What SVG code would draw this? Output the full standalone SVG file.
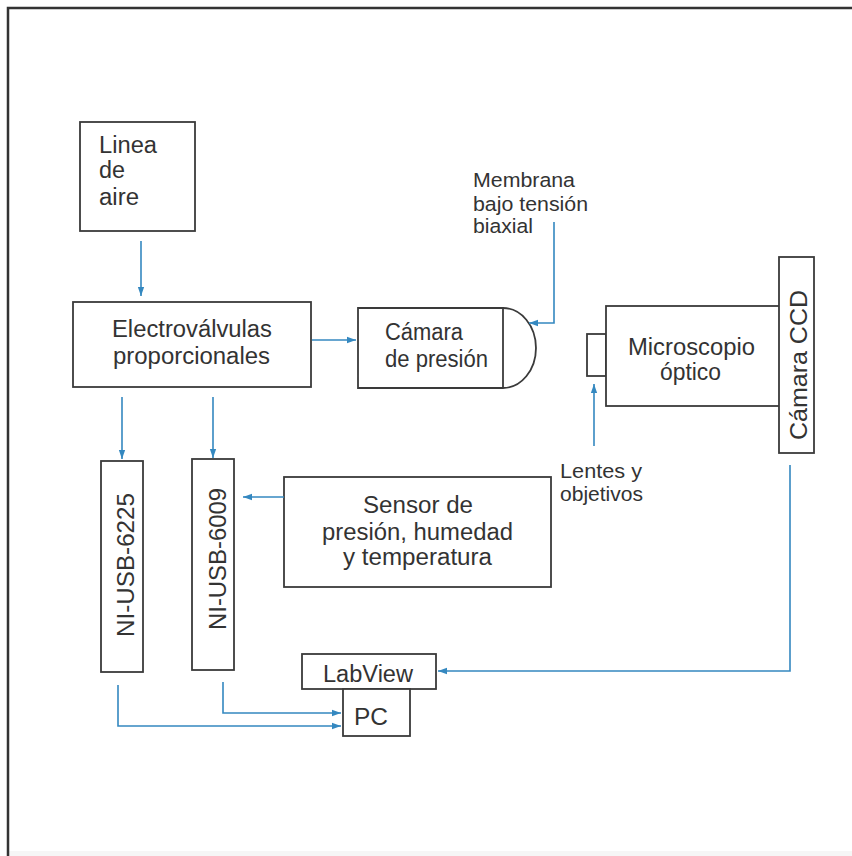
<svg xmlns="http://www.w3.org/2000/svg" width="852" height="856" viewBox="0 0 852 856">
<style>
.box{fill:#fff;stroke:#3a3a3a;stroke-width:1.8}
.lbl{font-family:"Liberation Sans",Arial,sans-serif;font-size:23px;fill:#333}
.sm{font-family:"Liberation Sans",Arial,sans-serif;font-size:20.5px;fill:#333}
.con{fill:none;stroke:#3488c0;stroke-width:1.6}
</style>
<defs>
<marker id="ah" viewBox="0 0 10 10" refX="10" refY="5" markerWidth="9" markerHeight="9" markerUnits="userSpaceOnUse" orient="auto">
<path d="M0,1.5 L10,5 L0,8.5 Z" fill="#3488c0"/>
</marker>
</defs>
<rect x="0" y="0" width="852" height="856" fill="#fff"/>
<rect x="8" y="851" width="844" height="5" fill="#f6f6f6"/>
<path d="M852,8 H8 V856" fill="none" stroke="#333" stroke-width="2.5"/>

<g id="linea-aire">
<rect class="box" x="80" y="122" width="115" height="109"/>
<text class="lbl" x="99" y="153" textLength="58" lengthAdjust="spacingAndGlyphs">Linea</text>
<text class="lbl" x="99" y="178" textLength="26" lengthAdjust="spacingAndGlyphs">de</text>
<text class="lbl" x="99" y="205" textLength="40" lengthAdjust="spacingAndGlyphs">aire</text>
</g>

<g id="electrovalvulas">
<rect class="box" x="73" y="302" width="238" height="85"/>
<text class="lbl" x="112" y="337" textLength="160" lengthAdjust="spacingAndGlyphs">Electroválvulas</text>
<text class="lbl" x="113" y="364" textLength="157" lengthAdjust="spacingAndGlyphs">proporcionales</text>
</g>

<g id="camara-presion">
<path class="box" d="M503,308 H358 V388 H503 A33,40 0 0 0 503,308 Z"/>
<line x1="503" y1="308" x2="503" y2="388" stroke="#3a3a3a" stroke-width="1.8"/>
<text class="lbl" x="385" y="340" textLength="78" lengthAdjust="spacingAndGlyphs">Cámara</text>
<text class="lbl" x="385" y="367" textLength="103" lengthAdjust="spacingAndGlyphs">de presión</text>
</g>

<g id="membrana">
<text class="sm" x="473" y="187" textLength="102" lengthAdjust="spacingAndGlyphs">Membrana</text>
<text class="sm" x="473" y="211" textLength="115" lengthAdjust="spacingAndGlyphs">bajo tensión</text>
<text class="sm" x="473" y="233" textLength="60" lengthAdjust="spacingAndGlyphs">biaxial</text>
</g>

<g id="microscopio">
<rect class="box" x="587" y="334" width="19" height="42"/>
<rect class="box" x="606" y="306" width="175" height="100"/>
<text class="lbl" x="628" y="355" textLength="127" lengthAdjust="spacingAndGlyphs">Microscopio</text>
<text class="lbl" x="660" y="380" textLength="61" lengthAdjust="spacingAndGlyphs">óptico</text>
</g>

<g id="camara-ccd">
<rect class="box" x="779" y="257" width="35" height="196"/>
<text class="lbl" transform="translate(807,365) rotate(-90)" text-anchor="middle" textLength="150" lengthAdjust="spacingAndGlyphs">Cámara CCD</text>
</g>

<g id="lentes">
<text class="sm" x="560" y="478" textLength="82" lengthAdjust="spacingAndGlyphs">Lentes y</text>
<text class="sm" x="560" y="501" textLength="83" lengthAdjust="spacingAndGlyphs">objetivos</text>
</g>

<g id="ni-usb-6225">
<rect class="box" x="101" y="461" width="42" height="211"/>
<text class="lbl" transform="translate(134,565) rotate(-90)" text-anchor="middle" textLength="144" lengthAdjust="spacingAndGlyphs">NI-USB-6225</text>
</g>

<g id="ni-usb-6009">
<rect class="box" x="192" y="459" width="42" height="211"/>
<text class="lbl" transform="translate(226,559) rotate(-90)" text-anchor="middle" textLength="142" lengthAdjust="spacingAndGlyphs">NI-USB-6009</text>
</g>

<g id="sensor">
<rect class="box" x="284" y="477" width="267" height="110"/>
<text class="lbl" x="363" y="513" textLength="110" lengthAdjust="spacingAndGlyphs">Sensor de</text>
<text class="lbl" x="322" y="540" textLength="191" lengthAdjust="spacingAndGlyphs">presión, humedad</text>
<text class="lbl" x="343" y="565" textLength="149" lengthAdjust="spacingAndGlyphs">y temperatura</text>
</g>

<g id="labview">
<rect class="box" x="302" y="654" width="134" height="35"/>
<text class="lbl" x="323" y="682" textLength="90" lengthAdjust="spacingAndGlyphs">LabView</text>
</g>

<g id="pc">
<rect class="box" x="343" y="689" width="67" height="47"/>
<text class="lbl" x="354" y="725" textLength="34" lengthAdjust="spacingAndGlyphs">PC</text>
</g>

<g id="connectors">
<path class="con" d="M141,241 V296" marker-end="url(#ah)"/>
<path class="con" d="M312,340 H356" marker-end="url(#ah)"/>
<path class="con" d="M554,222 V323 H529" marker-end="url(#ah)"/>
<path class="con" d="M594,446 V384" marker-end="url(#ah)"/>
<path class="con" d="M122,397 V459" marker-end="url(#ah)"/>
<path class="con" d="M213,397 V458" marker-end="url(#ah)"/>
<path class="con" d="M284,497 H243" marker-end="url(#ah)"/>
<path class="con" d="M118,685 V726 H341" marker-end="url(#ah)"/>
<path class="con" d="M223,682 V713 H341" marker-end="url(#ah)"/>
<path class="con" d="M790,465 V671 H438" marker-end="url(#ah)"/>
</g>
</svg>
